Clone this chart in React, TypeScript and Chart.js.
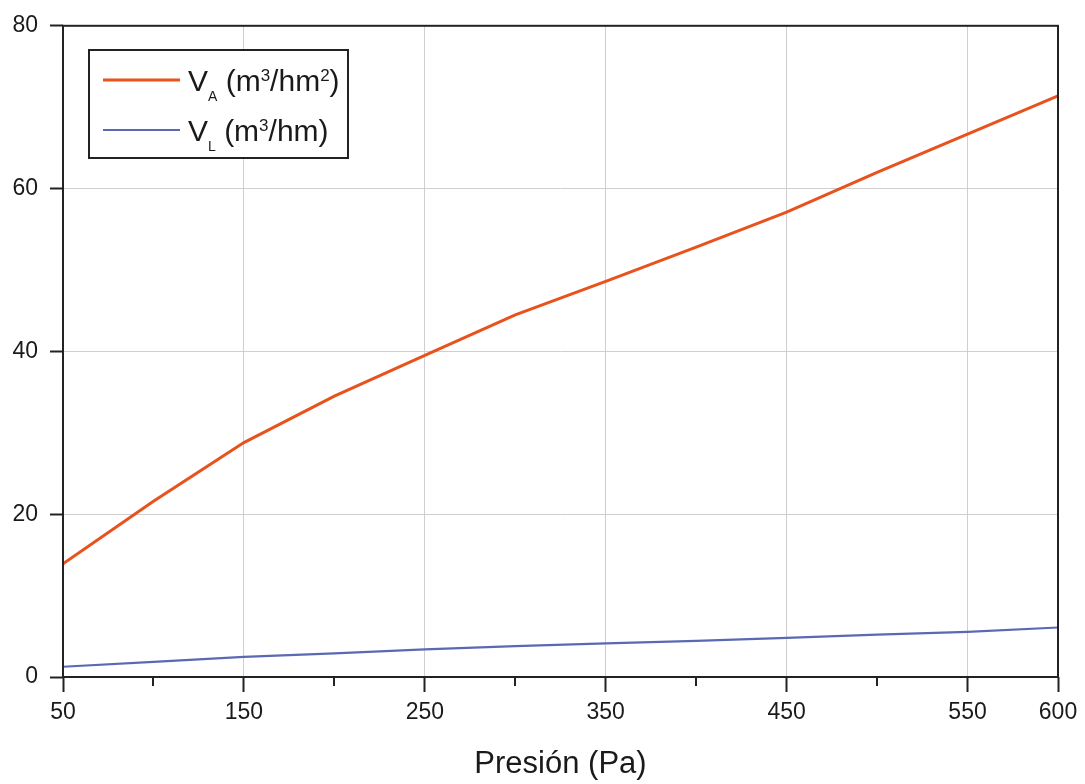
import React, { useEffect, useRef } from "react";
import { Chart, registerables } from "chart.js";

Chart.register(...registerables);

const pressures = [50, 100, 150, 200, 250, 300, 350, 400, 450, 500, 550, 600];
const vaValues = [13.9, 21.6, 28.8, 34.5, 39.5, 44.5, 48.6, 52.8, 57.1, 62.0, 66.7, 71.4];
const vlValues = [1.26, 1.87, 2.48, 2.9, 3.39, 3.8, 4.12, 4.45, 4.8, 5.2, 5.54, 6.08];
const majorXTicks = [50, 150, 250, 350, 450, 550, 600];
const minorXTicks = [100, 200, 300, 400, 500];
const yTicks = [0, 20, 40, 60, 80];

const FONT = '"Liberation Sans", Arial, Helvetica, sans-serif';
const ORANGE = "#e8521c";
const BLUE = "#5b68b4";

type Seg = { t: string; size: number; dy: number };

const legendItems: { color: string; width: number; segs: Seg[] }[] = [
  {
    color: ORANGE,
    width: 3,
    segs: [
      { t: "V", size: 30, dy: 0 },
      { t: "A", size: 14, dy: 10 },
      { t: " (m", size: 30, dy: 0 },
      { t: "3", size: 17, dy: -10 },
      { t: "/hm", size: 30, dy: 0 },
      { t: "2", size: 17, dy: -10 },
      { t: ")", size: 30, dy: 0 },
    ],
  },
  {
    color: BLUE,
    width: 2,
    segs: [
      { t: "V", size: 30, dy: 0 },
      { t: "L", size: 14, dy: 10 },
      { t: " (m", size: 30, dy: 0 },
      { t: "3", size: 17, dy: -10 },
      { t: "/hm)", size: 30, dy: 0 },
    ],
  },
];

const isMinor = (v: number) => minorXTicks.includes(v);

const framePlugin = {
  id: "frameAndLegend",
  afterDraw(chart: any) {
    const { ctx, chartArea } = chart;
    const { left, right, top, bottom } = chartArea;
    const xs = chart.scales.x;
    ctx.save();
    ctx.strokeStyle = "#222";
    ctx.lineWidth = 2;
    minorXTicks.forEach((v) => {
      const px = Math.round(xs.getPixelForValue(v));
      ctx.beginPath();
      ctx.moveTo(px, bottom);
      ctx.lineTo(px, bottom + 9);
      ctx.stroke();
    });
    ctx.strokeStyle = "#222";
    ctx.lineWidth = 2;
    ctx.strokeRect(left, top, right - left, bottom - top);

    const bx = 89,
      by = 50,
      bw = 259,
      bh = 108;
    ctx.fillStyle = "#fff";
    ctx.fillRect(bx, by, bw, bh);
    ctx.lineWidth = 2;
    ctx.strokeStyle = "#222";
    ctx.strokeRect(bx, by, bw, bh);
    legendItems.forEach((item, i) => {
      const ly = 80 + i * 50;
      ctx.strokeStyle = item.color;
      ctx.lineWidth = item.width;
      ctx.beginPath();
      ctx.moveTo(103, ly);
      ctx.lineTo(180, ly);
      ctx.stroke();
      let x = 188;
      const baseline = ly + 11;
      ctx.fillStyle = "#1a1a1a";
      ctx.textBaseline = "alphabetic";
      ctx.textAlign = "left";
      item.segs.forEach((s) => {
        ctx.font = `${s.size}px ${FONT}`;
        ctx.fillText(s.t, x, baseline + s.dy);
        x += ctx.measureText(s.t).width;
      });
    });
    ctx.restore();
  },
};

export default function App() {
  const ref = useRef<HTMLCanvasElement | null>(null);
  useEffect(() => {
    document.body.style.margin = "0";
    if (!ref.current) return;
    const chart = new Chart(ref.current, {
      type: "line",
      data: {
        labels: pressures,
        datasets: [
          {
            label: "VA (m3/hm2)",
            data: pressures.map((p, i) => ({ x: p, y: vaValues[i] })),
            borderColor: ORANGE,
            borderWidth: 3,
            pointRadius: 0,
            tension: 0,
          },
          {
            label: "VL (m3/hm)",
            data: pressures.map((p, i) => ({ x: p, y: vlValues[i] })),
            borderColor: BLUE,
            borderWidth: 2.2,
            pointRadius: 0,
            tension: 0,
          },
        ],
      },
      options: {
        responsive: false,
        animation: false,
        layout: { padding: { top: 23, right: 27, left: 0, bottom: 0 } },
        plugins: {
          legend: { display: false },
          tooltip: { enabled: false },
        },
        scales: {
          x: {
            type: "linear",
            min: 50,
            max: 600,
            afterBuildTicks: (scale: any) => {
              scale.ticks = [...majorXTicks, ...minorXTicks]
                .sort((a, b) => a - b)
                .map((v) => ({ value: v }));
            },
            afterFit: (scale: any) => {
              scale.height = 107;
            },
            border: { display: false },
            grid: {
              color: (c: any) => (isMinor(c.tick?.value) ? "rgba(0,0,0,0)" : "#cfcfcf"),
              lineWidth: 1,
              tickColor: (c: any) => (isMinor(c.tick?.value) ? "rgba(0,0,0,0)" : "#222"),
              tickLength: 15,
              tickWidth: 2,
            },
            ticks: {
              autoSkip: false,
              maxRotation: 0,
              padding: 7,
              color: "#1a1a1a",
              font: { family: FONT, size: 23 },
              callback: (v: any) => (isMinor(Number(v)) ? "" : String(v)),
            },
            title: {
              display: true,
              text: "Presión (Pa)",
              color: "#1a1a1a",
              font: { family: FONT, size: 31, lineHeight: 1 },
              padding: { top: 0, bottom: 4 },
            },
          },
          y: {
            min: 0,
            max: 80,
            afterBuildTicks: (scale: any) => {
              scale.ticks = yTicks.map((v) => ({ value: v }));
            },
            afterFit: (scale: any) => {
              scale.width = 63;
            },
            border: { display: false },
            grid: {
              color: "#cfcfcf",
              lineWidth: 1,
              tickColor: "#222",
              tickLength: 13,
              tickWidth: 2,
            },
            ticks: {
              padding: 12,
              color: "#1a1a1a",
              font: { family: FONT, size: 23 },
            },
          },
        },
      },
      plugins: [framePlugin],
    } as any);
    return () => chart.destroy();
  }, []);
  return (
    <div style={{ width: 1085, height: 784 }}>
      <canvas ref={ref} width={1085} height={784} style={{ display: "block" }} />
    </div>
  );
}
